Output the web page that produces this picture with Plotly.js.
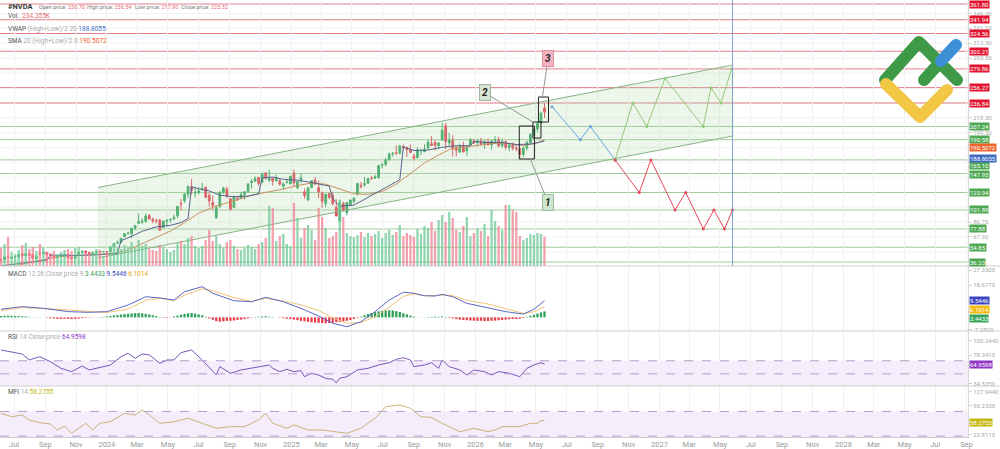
<!DOCTYPE html>
<html><head><meta charset="utf-8">
<script src="https://cdn.plot.ly/plotly-3.0.1.min.js"></script>
<style>html,body{margin:0;padding:0;background:#fff;}#wrap{position:relative;width:1000px;height:449px;}#logo{position:absolute;left:0;top:0;pointer-events:none;}</style>
</head><body>
<div id="wrap"><div id="chart" style="width:1000px;height:449px"></div>
<svg id="logo" width="1000" height="449"><g fill="none" stroke-linecap="round" stroke-linejoin="round" stroke-width="12">
<path d="M885,80 L919,42 L957,80" stroke="#3f9a48"/><path d="M886,84 L920,117 L947,90" stroke="#f2c744"/>
<path d="M924,80 L941,61" stroke="#3f9a48"/><path d="M941,61 L956,45" stroke="#3d8fd6"/></g></svg></div>
<script>
// ---------- DATA ----------
const firstWeek = '2023-06-05';
const opens = [38.9,39.2,42.6,41.1,42.0,42.7,46.5,44.3,46.5,45.5,
40.4,46.2,46.9,48.6,45.6,43.9,41.9,44.0,45.3,46.0,
41.5,40.9,45.3,48.3,49.9,48.2,46.3,47.7,49.3,48.8,
49.2,49.5,54.8,60.0,60.8,68.3,72.6,71.9,79.0,85.2,
86.5,87.3,95.0,90.3,88.6,89.1,79.7,87.5,89.3,90.4,
94.7,110.2,113.5,121.8,131.1,123.2,123.5,128.6,130.6,120.4,
111.5,92.1,106.3,124.3,128.1,116.0,104.9,116.8,116.6,121.8,
124.9,136.5,138.1,143.0,137.2,148.7,139.5,142.0,138.8,139.0,
132.0,136.3,134.8,148.6,130.0,139.2,124.8,114.8,130.1,139.5,
130.0,123.5,109.9,122.7,120.1,105.1,87.5,110.0,98.8,108.6,
112.9,122.0,133.0,134.0,135.5,142.3,141.9,142.5,158.4,159.3,
165.4,172.8,174.1,173.6,182.1,180.6,178.1,170.0,168.0,176.5,
175.3,180.4,185.5,187.0,183.1,190.0,208.1,186.6,189.5,179.5,
174.8,182.6,176.9,183.9,189.0,187,189,185,188,184,
189,190,183,188,181,184,180,179,172,180,
187,197,204,212,230.70];
const highs = [39.9,43.0,43.9,42.6,42.9,46.0,48.1,47.5,47.4,46.0,
45.3,50.2,49.4,48.9,46.1,44.5,43.7,45.8,47.6,46.4,
43.6,45.3,48.4,49.7,50.5,48.3,47.7,49.3,50.1,49.6,
49.3,55.0,59.5,63.5,66.1,72.2,74.6,79.0,82.4,97.4,
91.1,97.4,96.8,92.3,90.6,90.6,88.8,90.0,91.4,95.8,
106.6,115.8,122.8,132.0,140.8,131.4,130.7,136.2,131.4,124.1,
120.2,107.7,125.0,131.3,131.3,116.2,120.0,119.7,124.4,125.1,
135.0,140.9,144.4,143.1,148.9,149.8,152.9,142.1,146.5,140.5,
136.7,141.1,144.9,153.1,138.3,148.0,129.0,130.4,139.3,143.4,
139.0,125.1,122.2,122.8,124.9,115.6,115.1,112.5,111.9,114.8,
118.0,136.0,137.4,143.5,142.4,145.0,146.2,158.7,161.0,167.9,
174.3,174.7,183.3,183.9,184.5,182.0,184.5,172.9,181.0,178.9,
184.6,191.1,195.3,190.1,187.0,212.2,211.3,199.0,196.0,182.8,
185.7,188.0,181.5,192.7,191.5,191,193,190,192,190,
195,194,191,190,186,187,185,181,182,189,
199,206,213,226,236.54];
const lows = [37.8,39.0,40.8,40.1,41.3,41.9,43.0,43.5,44.2,40.3,
40.3,45.3,46.0,45.3,43.7,40.9,41.0,43.2,44.9,41.3,
40.3,40.6,45.2,47.5,47.0,46.1,45.1,47.2,47.6,48.7,
47.3,49.2,54.0,59.1,60.2,67.6,70.3,66.2,76.3,84.0,
84.3,86.0,89.8,85.2,84.8,75.6,79.3,81.2,86.1,89.5,
91.9,101.5,111.0,117.0,121.5,118.0,121.4,126.0,116.7,106.3,
101.4,90.7,104.3,122.0,116.7,100.9,104.0,113.2,115.4,115.1,
124.3,128.7,137.5,132.1,135.6,140.1,137.2,132.7,137.6,132.4,
126.9,135.7,134.7,131.8,128.0,135.7,116.3,113.0,129.2,134.0,
116.8,104.8,105.5,115.5,107.7,94.0,86.6,100.0,95.0,107.0,
110.3,120.0,129.0,131.0,135.3,139.8,141.0,142.0,154.5,157.0,
164.0,168.9,170.9,172.0,178.0,168.8,173.9,164.1,166.8,170.9,
175.0,178.0,183.0,176.8,178.5,189.9,178.9,183.0,169.5,169.6,
174.5,174.8,170.3,183.3,185.0,182,183,179,183,178,
185,181,180,178,176,177,176,167,169,177,
185,195,200,210,217.90];
const closes = [38.75,42.6,42.2,42.3,42.5,45.5,44.3,46.7,44.7,40.9,
43.3,46.0,48.5,45.6,43.9,41.6,43.5,45.7,45.4,41.4,
40.5,45.0,48.3,49.3,47.8,46.5,47.5,48.9,48.8,49.5,
49.0,54.7,59.5,61.0,66.1,72.1,72.6,78.8,82.2,87.5,
87.8,94.3,90.4,88.0,88.1,76.2,87.7,88.8,89.9,92.5,
106.5,109.6,121.8,131.9,126.6,123.5,125.8,129.2,117.9,113.1,
107.3,104.8,124.6,129.4,119.4,102.8,119.1,116.0,121.4,124.9,
134.8,138.0,141.5,135.4,147.6,142.0,142.0,138.3,142.4,134.3,
134.7,137.0,144.5,135.9,137.7,142.6,120.1,129.8,138.9,134.4,
124.9,112.7,121.7,117.7,109.7,94.3,110.9,101.5,111.4,114.5,
116.7,135.4,131.3,135.1,141.7,142.0,143.9,157.8,159.3,164.9,
172.4,173.5,173.7,182.7,180.5,178.0,174.2,167.0,177.8,176.7,
178.2,187.6,183.2,183.2,186.3,202.5,188.2,190.2,178.9,177.0,
182.4,175.0,181.0,190.5,186.5,189,185,188,184,189,
190,183,188,181,184,180,179,172,180,187,
197,204,211,224,225.32];
const volumeK = [144,176,232,112,96,128,168,184,136,152,120,176,144,112,104,120,96,112,128,136,120,144,152,128,112,104,120,136,128,80,
112,160,176,144,136,168,152,192,144,208,160,176,136,128,120,168,152,136,112,128,184,200,176,224,240,160,
144,160,208,288,200,240,176,144,192,208,160,136,128,144,168,152,136,176,192,224,480,464,200,240,256,176,160,504,384,224,304,328,288,208,464,392,304,224,240,272,528,392,264,240,232,
248,272,232,264,240,256,280,224,264,288,248,272,328,240,264,248,232,296,256,320,304,352,280,368,408,352,432,384,288,272,320,392,240,264,304,280,336,240,448,360,320,288,488,488,448,432,240,208,224,256,248,264,256,234.355];
const smaWeeks = [0,4,8,12,16,20,24,28,32,36,40,44,48,52,56,60,64,68,72,76,80,84,88,92,96,100,104,108,112,116,120,124,128,132,136,140,144,148,152,154];
const smaVals  = [29.5,31.2,35.6,39.3,42.6,44.2,45.2,45.7,46.9,51.4,59.1,67.8,75.3,85.9,97.9,105.4,110.6,116.3,121.7,124.9,128.3,132.7,135.9,134.4,128.0,122.3,121.5,125.2,134.4,148.0,161.2,171.3,180.1,181.7,183.6,186.0,185.9,183.0,186.5,190.5072];
const vwapWeeks = [0,4,8,13,14,18,22,26,30,33,34,37,40,44,48,51,53,54,56,59,62,66,70,73,74,77,80,84,88,93,94,96,100,104,108,113,114,117,121,125,129,133,134,138,142,146,150,154];
const vwapVals  = [31.5,33.5,36.0,38.5,44.9,44.6,44.4,45.0,45.6,47.0,63.2,68.5,75.0,80.5,82.5,86.0,91.0,131.2,128.5,126.0,120.5,118.5,119.5,122.0,142.3,143.5,140.5,139.5,136.5,132.0,116.3,106.5,108.0,118.0,127.0,140.0,181.3,177.0,177.5,181.0,183.0,183.0,188.3,187.0,187.0,184.5,185.0,188.8055];
const macdHist = [0.8,0.9,1.0,0.9,0.8,0.7,0.6,0.5,0.3,
0.1,-0.1,0.1,0.0,-0.2,
-0.5,-0.7,-0.9,-0.9,-0.8,-0.9,-1.0,-0.9,-0.7,-0.5,-0.3,
-0.2,-0.1,0.1,0.2,0.3,0.5,
0.8,1.1,1.3,1.6,1.9,2.1,2.3,2.4,2.5,2.3,2.0,1.7,1.2,0.7,
0.2,-0.2,-0.3,-0.1,
0.5,1.0,1.5,2.0,2.3,2.5,2.2,1.7,1.2,
0.3,-0.6,-1.4,-2.2,-2.5,-2.3,-2.0,-2.0,-1.8,-1.5,-1.3,-1.0,-0.6,
-0.2,0.2,0.3,0.5,0.6,0.4,0.2,0.0,-0.2,
-0.5,-0.8,-1.0,-1.3,-1.6,-2.0,-2.3,-2.6,-2.9,-3.0,-3.2,-3.3,-3.4,-3.3,-3.1,-2.8,-2.6,-2.3,-2.0,-1.6,
-1.0,-0.3,0.4,1.2,
1.9,2.5,3.0,3.5,3.8,4.0,4.1,4.0,3.6,3.1,2.4,1.7,1.0,0.4,0.0,
-0.1,0.1,0.2,0.3,0.4,0.3,0.5,0.2,
-0.3,-0.6,-1.0,-1.3,-1.5,-1.7,-1.8,-1.9,-2.0,-2.0,-2.1,-2.1,-2.0,-1.9,-1.7,-1.5,-1.3,-1.1,-1.0,-1.0,-0.8,-0.4,
0.3,0.9,1.5,2.1,2.8,3.4433];
const macdWeeks = [0,6,12,19,25,30,36,41,45,49,52,57,60,66,71,75,80,85,90,94,98,102,106,110,114,117,120,123,125,128,132,138,143,148,151,154];
const macdVals  = [4.7,6.2,5.2,3.3,2.9,3.3,7.1,11.9,11.2,10.0,14.8,17.7,13.9,9.6,9.0,11.6,9.0,5.2,0.8,-3.4,-5.4,-2.5,3.3,10.0,14.5,13.9,12.5,12.3,13.3,11.9,8.1,5.6,3.3,1.9,4.7,9.5446];
const signalWeeks = [0,6,12,19,25,30,36,41,45,49,52,57,60,66,71,75,80,85,90,94,98,102,106,110,114,117,120,125,128,132,138,143,148,151,154];
const signalVals  = [3.9,5.6,5.2,4.2,3.1,2.8,4.8,9.9,11.0,9.5,12.8,16.5,15.3,11.4,9.2,11.0,9.5,7.2,4.0,-0.3,-3.4,-2.9,0.3,5.9,12.1,13.5,12.4,12.8,12.5,9.8,7.7,4.8,2.3,3.2,6.1014];
const rsiWeeks = [0,3,6,8,11,14,17,20,23,25,28,31,34,36,38,40,42,45,47,49,51,54,57,59,61,62,65,68,71,74,76,77,79,81,83,85,86,88,90,92,94,95,96,98,101,104,107,110,112,114,116,117,120,122,124,125,127,130,132,134,137,139,141,144,147,149,151,153,154];
const rsiVals  = [86.5,83.9,80.3,71.2,76.2,68.6,58.4,53.3,62,55.9,60,63.5,76.2,81.4,73.8,80.3,79,66.1,71.2,71.2,82.4,86.5,71.2,60.0,48.2,61,50.8,55.9,58.4,62,63.5,58.4,53.3,57,53.3,55,45.6,51,48.2,43.2,41.6,36.4,43.2,45.6,55.9,58.4,63.5,67.1,72.2,74.7,71.2,61,63.5,67,58.4,71.2,61,55.9,48.2,55.9,53.3,48.2,53.3,51,45.6,58.4,63.5,67.1,64.9598];
const mfiWeeks = [0,3,6,8,11,14,16,18,20,24,26,28,31,35,38,40,42,45,49,53,57,61,65,69,73,75,77,81,83,87,91,94,98,102,106,109,113,116,119,122,125,130,134,138,140,142,147,150,152,153,154];
const mfiVals  = [75.4,67.2,71.4,59.2,52.7,49.5,34.9,44.6,26.9,51.2,34.9,51.2,55.1,75.4,71.4,83.5,71.4,51.2,55.1,63.3,51.2,39.0,43,43,59.2,75.4,51.2,39,47.4,34.9,34.9,30.8,26.9,39,63.3,91.6,95.7,87.6,67.2,65.6,51.2,30.8,39,30.8,34.9,43,43,51.2,51.2,57.7,58.2755];
const redLevels   = [361.80,341.94,324.56,302.21,279.86,256.27,236.84];
const greenLevels = [207.24,190.58,165.10,147.95,123.94,101.89,77.88,54.85,36.23];
const channelDates = ['2023-12-14','2027-05-26','2027-05-26','2023-12-14'];
const channelPrices = [130.2,284.8,195.2,41.3];
const blueDates = ['2026-06-02','2026-07-28','2026-08-17','2026-10-05'];
const bluePrices = [232.2,190.58,207.24,165.10];
const greenPathDates = ['2026-10-05','2026-11-09','2026-12-07','2027-01-12','2027-03-29','2027-04-13','2027-05-03','2027-05-24'];
const greenPathPrices = [165.10,236.84,207.24,268.0,207.24,256.27,236.84,279.86];
const redPathDates = ['2026-10-05','2026-11-22','2026-12-15','2027-02-01','2027-02-22','2027-03-29','2027-04-19','2027-05-10','2027-05-26'];
const redPathPrices = [165.10,123.94,165.10,101.89,123.94,77.88,101.89,77.88,101.89];
const tickDates = ['2023-07-01','2023-09-01','2023-11-01','2024-01-01','2024-03-01','2024-05-01','2024-07-01','2024-09-01','2024-11-01','2025-01-01','2025-03-01','2025-05-01','2025-07-01','2025-09-01','2025-11-01','2026-01-01','2026-03-01','2026-05-01','2026-07-01','2026-09-01','2026-11-01','2027-01-01','2027-03-01','2027-05-01','2027-07-01','2027-09-01','2027-11-01','2028-01-01','2028-03-01','2028-05-01','2028-07-01','2028-09-01'];
const tickLabels = ['Jul','Sep','Nov','2024','Mar','May','Jul','Sep','Nov','2025','Mar','May','Jul','Sep','Nov','2026','Mar','May','Jul','Sep','Nov','2027','Mar','May','Jul','Sep','Nov','2028','Mar','May','Jul','Sep'];
const priceTicks = [349.90,331.10,312.30,293.50,218.30,199.50,86.70,67.90];
const priceGrid = [349.90,331.10,312.30,293.50,274.70,255.90,237.10,218.30,199.50,180.70,161.90,143.10,124.30,105.50,86.70,67.90,49.10];
const macdTicks = [27.33,18.677,-7.282];
const rsiTicks = [100.244,78.341,34.535];
const mfiTicks = [127.944,93.233,23.811];

// ---------- HELPERS ----------
function weekDate(w){const d=new Date(firstWeek+'T00:00:00Z');d.setUTCDate(d.getUTCDate()+Math.round(w*7));return d.toISOString().slice(0,10);}
const dates = opens.map((_,i)=>weekDate(i));
const W=968, H=437;
const px=(x)=>x/W, py=(y)=>1-y/H;
const FONT='Roboto, Arial, sans-serif';
const up = closes.map((c,i)=>c>=opens[i]);

const traces = [];
traces.push({type:'bar',x:dates,y:volumeK,yaxis:'y5',xaxis:'x',marker:{color:up.map(u=>u?'rgba(110,200,150,0.75)':'rgba(240,130,145,0.75)')},hoverinfo:'skip'});
traces.push({type:'scatter',mode:'lines',x:channelDates,y:channelPrices,fill:'toself',fillcolor:'rgba(175,215,165,0.22)',line:{color:'#86b383',width:1},xaxis:'x',yaxis:'y'});
traces.push({type:'scatter',mode:'lines',x:smaWeeks.map(weekDate),y:smaVals,line:{color:'#c99160',width:1},xaxis:'x',yaxis:'y'});
traces.push({type:'scatter',mode:'lines',x:vwapWeeks.map(weekDate),y:vwapVals,line:{color:'#56638f',width:1},xaxis:'x',yaxis:'y'});
traces.push({type:'candlestick',x:dates,open:opens,high:highs,low:lows,close:closes,xaxis:'x',yaxis:'y',
  increasing:{line:{color:'#3aa866',width:1},fillcolor:'#3aa866'},decreasing:{line:{color:'#e5485a',width:1},fillcolor:'#e5485a'},whiskerwidth:0});
traces.push({type:'scatter',mode:'lines+markers',x:blueDates,y:bluePrices,line:{color:'#6aa6e0',width:1},marker:{size:3,color:'#6aa6e0'},xaxis:'x',yaxis:'y'});
traces.push({type:'scatter',mode:'lines+markers',x:greenPathDates,y:greenPathPrices,line:{color:'#93c97a',width:1},marker:{size:3,color:'#93c97a'},xaxis:'x',yaxis:'y'});
traces.push({type:'scatter',mode:'lines+markers',x:redPathDates,y:redPathPrices,line:{color:'#e8485a',width:1},marker:{size:3,color:'#e8485a'},xaxis:'x',yaxis:'y'});
traces.push({type:'bar',x:dates,y:macdHist,xaxis:'x',yaxis:'y2',marker:{color:macdHist.map(v=>v>=0?'#2fa05a':'#e8404f')}});
traces.push({type:'scatter',mode:'lines',x:signalWeeks.map(weekDate),y:signalVals,line:{color:'#f2c37a',width:1},xaxis:'x',yaxis:'y2'});
traces.push({type:'scatter',mode:'lines',x:macdWeeks.map(weekDate),y:macdVals,line:{color:'#5b67c4',width:1},xaxis:'x',yaxis:'y2'});
traces.push({type:'scatter',mode:'lines',x:rsiWeeks.map(weekDate),y:rsiVals,line:{color:'#7a55b8',width:1},xaxis:'x',yaxis:'y3'});
traces.push({type:'scatter',mode:'lines',x:mfiWeeks.map(weekDate),y:mfiVals,line:{color:'#cbb27a',width:1},xaxis:'x',yaxis:'y4'});

const shapes = [];
priceGrid.forEach(v=>shapes.push({type:'line',xref:'paper',x0:0,x1:1,yref:'y',y0:v,y1:v,line:{color:'#f3f3f3',width:1},layer:'below'}));
redLevels.forEach(v=>shapes.push({type:'line',xref:'paper',x0:0,x1:1,yref:'y',y0:v,y1:v,line:{color:'#e67d8a',width:1},layer:'below'}));
greenLevels.forEach(v=>shapes.push({type:'line',xref:'paper',x0:0,x1:1,yref:'y',y0:v,y1:v,line:{color:'#9fcb99',width:1},layer:'below'}));
shapes.push({type:'line',xref:'x',x0:'2027-05-26',x1:'2027-05-26',yref:'paper',y0:py(266),y1:1,line:{color:'#7ba4d8',width:1}});
[[ '2026-03-29','2026-04-28',166.2,207.8],['2026-04-25','2026-05-11',192.7,212.9],['2026-05-06','2026-05-26',212.9,244.4]].forEach(b=>
  shapes.push({type:'rect',xref:'x',yref:'y',x0:b[0],x1:b[1],y0:b[2],y1:b[3],line:{color:'#222',width:1},fillcolor:'rgba(0,0,0,0)'}));
shapes.push({type:'rect',xref:'paper',x0:0,x1:1,yref:'y3',y0:30,y1:70,fillcolor:'rgba(190,140,230,0.16)',line:{width:0},layer:'below'});
[70,50].forEach(v=>shapes.push({type:'line',xref:'paper',x0:0,x1:1,yref:'y3',y0:v,y1:v,line:{color:'#b59ccc',width:1,dash:'dash'}}));
shapes.push({type:'rect',xref:'paper',x0:0,x1:1,yref:'y4',y0:17.9,y1:80,fillcolor:'rgba(190,140,230,0.16)',line:{width:0},layer:'below'});
[80,20].forEach(v=>shapes.push({type:'line',xref:'paper',x0:0,x1:1,yref:'y4',y0:v,y1:v,line:{color:'#b59ccc',width:1,dash:'dash'}}));
[266,331,386].forEach(y=>shapes.push({type:'line',xref:'paper',x0:0,x1:1.04,yref:'paper',y0:py(y),y1:py(y),line:{color:'#d0d0d0',width:1}}));

const ann = [];
function side(text,yref,y,bg,ys){ann.push({xref:'paper',x:1,xanchor:'left',xshift:1,yref:yref,y:y,yanchor:'middle',yshift:ys||0,text:text,showarrow:false,bgcolor:bg,borderpad:0,font:{family:FONT,size:6,color:'#fff'}});}
redLevels.forEach(v=>side(v.toFixed(2),'y',v,'#e3142f'));
greenLevels.forEach(v=>side(v.toFixed(2),'y',v,'#4ea753',v===165.10?-6:(v===147.95?-1.5:0)));
side('190.5072','y',190.5072,'#f0642a',-8);
side('188.8055','y',188.8055,'#3e6cc2',-17);
side('9.5446','y2',9.5446,'#3a44c0');
side('6.1014','y2',6.1014,'#f2b90f',-3);
side('3.4433','y2',3.4433,'#36a35a',-7);
side('64.9598','y3',64.9598,'#8e36c6');
side('58.2755','y4',58.2755,'#c6b712',-2);
function txt(x,y,text,size,color){ann.push({xref:'paper',yref:'paper',x:px(x),y:py(y),xanchor:'left',yanchor:'middle',text:text,showarrow:false,font:{family:FONT,size:size,color:color||'#666'}});}
const red='#e66a75', lg='#aaaaaa';
txt(6,7,'<b>#NVDA</b>',7.5,'#333');
txt(37,7,'Open price: <span style="color:'+red+'">230.70</span>',5.5,'#777');
txt(85,7,'High price: <span style="color:'+red+'">236.54</span>',5.5,'#777');
txt(133,7,'Low price: <span style="color:'+red+'">217.90</span>',5.5,'#777');
txt(179,7,'Close price: <span style="color:'+red+'">225.32</span>',5.5,'#777');
txt(6,16,'Vol.  <span style="color:'+red+'">234.355K</span>',6.5,'#555');
txt(6,29,'VWAP <span style="color:'+lg+'">(High+Low)/2 20</span> <span style="color:#3e6cc2">188.8055</span>',6.5,'#555');
txt(6,41,'SMA <span style="color:'+lg+'">20 (High+Low)/2 0</span> <span style="color:#f0642a">190.5072</span>',6.5,'#555');
txt(6,274,'MACD <span style="color:'+lg+'">12 26 Close price 9</span> <span style="color:#36a35a">3.4433</span> <span style="color:#3a44c0">9.5446</span> <span style="color:#e8a60a">6.1014</span>',6.5,'#555');
txt(6,337,'RSI <span style="color:'+lg+'">14 Close price</span> <span style="color:#8e36c6">64.9598</span>',6.5,'#555');
txt(6,392,'MFI <span style="color:'+lg+'">14</span> <span style="color:#c6b712">58.2755</span>',6.5,'#555');
function callout(lbl,tx,ty,lx,ly,bg,bc){ann.push({xref:'x',yref:'y',x:tx,y:ty,axref:'x',ayref:'y',ax:lx,ay:ly,text:'<b><i>'+lbl+'</i></b>',showarrow:true,arrowhead:0,arrowwidth:1,arrowcolor:'#8d9d8d',bgcolor:bg,bordercolor:bc,borderwidth:1,borderpad:2,font:{family:FONT,size:10,color:'#222'}});}
callout('1','2026-04-20',166.2,'2026-05-25',111.1,'#cfe6cf','#9dbb9d');
callout('2','2026-04-25',212.9,'2026-01-19',249.9,'#d6e5d1','#9fb59f');
callout('3','2026-05-14',244.4,'2026-05-25',292.8,'#f5b3c0','#e08d9c');

const yBase = {side:'right',anchor:'x',zeroline:false,showgrid:false,ticks:'outside',ticklen:3,tickcolor:'#cfcfcf',showline:true,linecolor:'#d8d8d8',tickfont:{family:FONT,size:6,color:'#a8a8a8'},fixedrange:true};
const layout = {
  width:1000,height:449,margin:{l:0,r:32,t:0,b:12},paper_bgcolor:'#fff',plot_bgcolor:'#fff',showlegend:false,bargap:0.35,
  font:{family:FONT},
  xaxis:{type:'date',range:['2023-06-03','2028-09-04'],tickvals:tickDates,ticktext:tickLabels,tickfont:{family:FONT,size:7.5,color:'#9a9a9a'},
    showgrid:true,gridcolor:'#f0f0f0',rangeslider:{visible:false},anchor:'y4',showline:true,linecolor:'#cfcfcf',ticks:'',zeroline:false},
  yaxis:Object.assign({},yBase,{domain:[py(266),1],range:[31.18,366.85],tickvals:priceTicks,ticktext:priceTicks.map(v=>v.toFixed(2))}),
  yaxis2:Object.assign({},yBase,{domain:[py(331),py(266)],range:[-7.87,29.64],tickvals:macdTicks,ticktext:macdTicks.map(v=>v.toFixed(4))}),
  yaxis3:Object.assign({},yBase,{domain:[py(386),py(331)],range:[31.4,115.5],tickvals:rsiTicks,ticktext:rsiTicks.map(v=>v.toFixed(4))}),
  yaxis4:Object.assign({},yBase,{domain:[0,py(386)],range:[17.9,141.8],tickvals:mfiTicks,ticktext:mfiTicks.map(v=>v.toFixed(4))}),
  yaxis5:{overlaying:'y',range:[0,2128],visible:false,fixedrange:true},
  shapes:shapes,annotations:ann
};
Plotly.newPlot('chart',traces,layout,{staticPlot:true,displayModeBar:false});
</script></body></html>
